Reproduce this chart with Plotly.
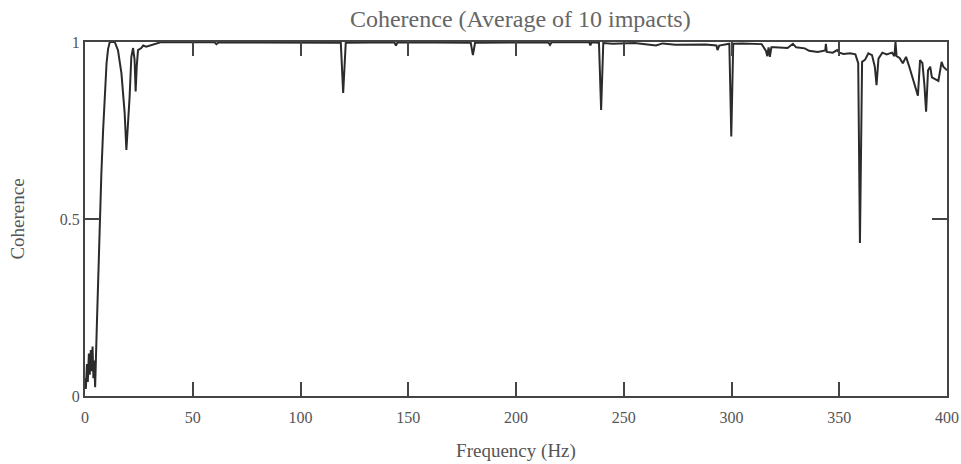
import plotly.graph_objects as go

# Frequency (Hz) and coherence values
freq = [0.0, 0.4, 0.9, 1.3, 1.8, 2.2, 2.7, 3.1, 3.5, 3.9, 4.3, 4.7,
        5.5, 6.2, 6.9, 7.6, 8.4, 9.2, 10.0, 10.7, 11.5, 13.8,
        15.3, 16.9, 18.4, 19.2, 20.0, 20.7, 21.5, 22.3, 23.0, 23.5, 24.0, 24.6,
        26.1, 27.0, 28.4, 30.0, 33.0, 35.0,
        60.0, 61.0, 62.0, 100.0,
        118.7, 119.8, 121.0,
        143.5, 144.3, 145.0,
        179.0, 180.0, 181.0,
        215.0, 215.8, 216.5,
        234.0, 234.5, 235.0,
        238.5, 239.5, 240.5,
        245.0, 255.0, 262.0, 265.0, 268.0, 274.0, 288.0,
        293.0, 293.5, 294.3,
        299.0, 299.9, 300.8,
        305.0, 314.0, 316.0, 316.6, 317.2, 317.8, 318.5,
        320.0, 326.0, 328.5, 330.0, 334.0, 336.0, 340.0,
        343.5, 343.8, 344.2, 347.0, 349.0, 350.0, 352.0, 355.0, 357.5,
        358.8, 359.6, 360.6, 362.0, 363.5, 365.2, 366.5, 367.3, 368.2,
        370.0, 372.0, 374.5, 375.6, 376.1, 376.6, 378.0, 379.5, 381.0,
        382.5, 384.0, 385.5, 386.5, 387.5, 388.6, 389.5, 390.3, 391.2,
        392.2, 393.0, 394.5, 396.0, 397.5, 398.3, 400.0]

coherence = [0.05, 0.02, 0.09, 0.04, 0.12, 0.06, 0.13, 0.07, 0.14, 0.05, 0.10, 0.025,
             0.20, 0.36, 0.50, 0.63, 0.75, 0.86, 0.94, 0.98, 1.0, 1.0,
             0.977, 0.912, 0.80, 0.695, 0.76, 0.845, 0.958, 0.983, 0.95, 0.86, 0.93, 0.977,
             0.983, 0.99, 0.987, 0.99, 0.995, 0.999,
             0.999, 0.994, 0.999, 0.999,
             0.998, 0.856, 0.998,
             0.999, 0.99, 0.999,
             0.998, 0.963, 0.998,
             0.999, 0.992, 0.999,
             0.999, 0.99, 0.999,
             0.998, 0.808, 0.997,
             0.995, 0.997, 0.993, 0.99, 0.996, 0.992, 0.993,
             0.99, 0.977, 0.99,
             0.995, 0.733, 0.995,
             0.996, 0.994, 0.975, 0.96, 0.985, 0.958, 0.985,
             0.985, 0.983, 0.995, 0.985, 0.982, 0.975, 0.972,
             0.976, 0.995, 0.972, 0.97, 0.977, 0.97, 0.966, 0.968, 0.965,
             0.94, 0.432, 0.944, 0.95, 0.968, 0.963, 0.93, 0.878, 0.953,
             0.97, 0.965, 0.97, 0.96, 1.0, 0.96, 0.955, 0.94, 0.958,
             0.93, 0.90, 0.87, 0.848, 0.949, 0.94, 0.88, 0.803, 0.92,
             0.93, 0.90, 0.895, 0.89, 0.944, 0.93, 0.92]

x_ticks = [0, 50, 100, 150, 200, 250, 300, 350, 400]
x_tick_text = ["0", "50", "100", "150", "200", "250", "300", "350", "400"]
y_ticks = [0, 0.5, 1]
y_tick_text = ["0", "0.5", "1"]

TEXT = "#555555"
FRAME = "#444444"
FONT = "Liberation Serif, Times New Roman, serif"

fig = go.Figure()
fig.add_trace(go.Scatter(x=freq, y=coherence, mode="lines",
                         line=dict(color="#2b2b2b", width=2),
                         showlegend=False, hoverinfo="skip"))

fig.update_layout(
    width=961, height=464,
    margin=dict(l=85, r=14, t=42, b=68),
    paper_bgcolor="white", plot_bgcolor="white",
    font=dict(family=FONT, color=TEXT, size=16),
    title=dict(text="Coherence (Average of 10 impacts)",
               font=dict(family=FONT, size=24, color="#666666"),
               x=0.505, xanchor="center", xref="paper",
               y=0.96, yanchor="middle", yref="container"),
    xaxis=dict(range=[0, 400], tickvals=x_ticks, ticktext=x_tick_text,
               ticks="inside", ticklen=14, tickcolor=FRAME, tickwidth=1.5,
               showline=True, linecolor=FRAME, linewidth=2, mirror="ticks",
               showgrid=False, zeroline=False, automargin=False,
               ticklabelstandoff=6, ticklabeloverflow="allow",
               tickfont=dict(size=16, color=TEXT),
               title=dict(text="Frequency (Hz)", font=dict(size=19, color=TEXT),
                          standoff=18)),
    yaxis=dict(range=[0, 1], tickvals=y_ticks, ticktext=y_tick_text, ticks="inside",
               ticklen=15, tickcolor=FRAME, tickwidth=1.5, showline=True,
               linecolor=FRAME, linewidth=2, mirror="ticks", showgrid=False,
               zeroline=False, tickfont=dict(size=16, color=TEXT), automargin=False,
               title=dict(text="Coherence", font=dict(size=19, color=TEXT), standoff=30)),
)

fig.write_html("out.html")
